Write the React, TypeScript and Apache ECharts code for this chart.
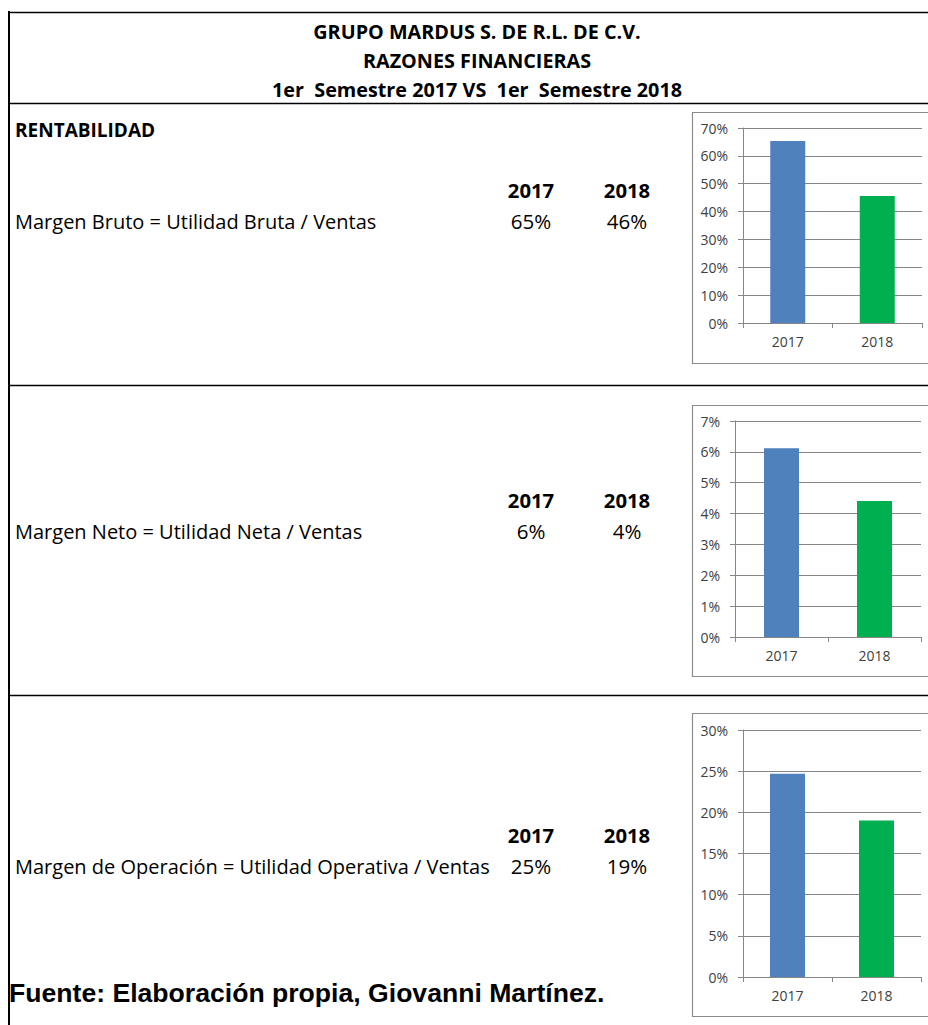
import React, { useEffect, useRef } from "react";
import * as echarts from "echarts";

// ---- data ----
const titleLines = [
  "GRUPO MARDUS S. DE R.L. DE C.V.",
  "RAZONES FINANCIERAS",
  "1er  Semestre 2017 VS  1er  Semestre 2018",
];
const sectionTitle = "RENTABILIDAD";
const years = ["2017", "2018"];
const ratioNames = [
  "Margen Bruto = Utilidad Bruta / Ventas",
  "Margen Neto = Utilidad Neta / Ventas",
  "Margen de Operación = Utilidad Operativa / Ventas",
];
const margenBruto = [0.653, 0.456];
const margenNeto = [0.0612, 0.0441];
const margenOperacion = [0.247, 0.19];
const axisMax = [0.7, 0.07, 0.3];
const axisInterval = [0.1, 0.01, 0.05];
const sourceNote = "Fuente: Elaboración propia, Giovanni Martínez.";

const seriesValues = [margenBruto, margenNeto, margenOperacion];
const barColors = ["#4F81BD", "#00B050"];

// ---- layout ----
const FONT = "'Open Sans', Lato, sans-serif";
const layout = [
  { headY: 190, valY: 221, box: { y: 112, h: 251 }, grid: { left: 743, top: 128, w: 179, h: 195 } },
  { headY: 500, valY: 531, box: { y: 405, h: 271 }, grid: { left: 735, top: 421, w: 186, h: 216 } },
  { headY: 835, valY: 866, box: { y: 713, h: 303 }, grid: { left: 743, top: 730, w: 178, h: 247 } },
];
const colX = [531, 627];

const pct = (v: number) => Math.round(v * 100) + "%";

function txt(text: string, x: number, y: number, font: string, align = "left", fill = "#000") {
  return {
    type: "text",
    x,
    y,
    z: 10,
    style: {
      text,
      x: 0,
      y: 0,
      font,
      fill,
      align,
      verticalAlign: "middle",
      textAlign: align,
      textVerticalAlign: "middle",
    },
  };
}

function hline(y: number, x1: number, x2: number, w = 1.5) {
  return { type: "line", z: 5, shape: { x1, y1: y, x2, y2: y }, style: { stroke: "#000", lineWidth: w } };
}

export default function App() {
  const ref = useRef<HTMLDivElement>(null);
  useEffect(() => {
    const chart = echarts.init(ref.current!, null, { renderer: "svg", width: 928, height: 1025 });

    const graphics: any[] = [];
    graphics.push({ type: "rect", z: 0, shape: { x: 0, y: 0, width: 928, height: 1025 }, style: { fill: "#fff" } });
    graphics.push(hline(12.5, 8, 928));
    graphics.push(hline(103.5, 8, 928));
    graphics.push(hline(385.5, 8, 928));
    graphics.push(hline(695.5, 8, 928));
    graphics.push({ type: "line", z: 5, shape: { x1: 9, y1: 11, x2: 9, y2: 1025 }, style: { stroke: "#000", lineWidth: 2 } });

    const titleY = [31, 60, 89];
    titleLines.forEach((t, i) => graphics.push(txt(t, 477, titleY[i], `bold 19.8px ${FONT}`, "center")));
    graphics.push(txt(sectionTitle, 15, 130, `bold 19px ${FONT}`));

    layout.forEach((L, i) => {
      graphics.push(txt(ratioNames[i], 15, L.valY, `20px ${FONT}`));
      years.forEach((y, j) => {
        graphics.push(txt(y, colX[j], L.headY, `bold 20.3px ${FONT}`, "center"));
        graphics.push(txt(pct(seriesValues[i][j]), colX[j], L.valY, `20.5px ${FONT}`, "center"));
      });
      graphics.push({
        type: "rect",
        z: 1,
        shape: { x: 692.5, y: L.box.y + 0.5, width: 250, height: L.box.h },
        style: { fill: "none", stroke: "#8c8c8c", lineWidth: 1.2 },
      });
    });
    graphics.push(txt(sourceNote, 9, 993, `bold 26.6px 'Liberation Sans', Arial, sans-serif`));

    const axisColor = "#868686";
    const option: any = {
      animation: false,
      backgroundColor: "#fff",
      graphic: { elements: graphics },
      grid: layout.map((L) => ({ left: L.grid.left, top: L.grid.top, width: L.grid.w, height: L.grid.h, containLabel: false })),
      xAxis: layout.map((_, i) => ({
        type: "category",
        gridIndex: i,
        data: years,
        axisLine: { show: true, lineStyle: { color: axisColor, width: 1 } },
        axisTick: { show: true, length: 5, lineStyle: { color: axisColor } },
        axisLabel: { color: "#404040", fontSize: 14, fontFamily: FONT, margin: 11 },
        z: 3,
      })),
      yAxis: layout.map((_, i) => ({
        type: "value",
        gridIndex: i,
        min: 0,
        max: axisMax[i],
        interval: axisInterval[i],
        axisLine: { show: true, lineStyle: { color: axisColor, width: 1 } },
        axisTick: { show: true, length: 5, lineStyle: { color: axisColor } },
        splitLine: { show: true, lineStyle: { color: axisColor, width: 1 } },
        axisLabel: { color: "#404040", fontSize: 14, fontFamily: FONT, margin: 15, formatter: (v: number) => pct(v) },
        z: 3,
      })),
      series: layout.map((_, i) => ({
        type: "bar",
        xAxisIndex: i,
        yAxisIndex: i,
        barWidth: 35,
        z: 4,
        data: seriesValues[i].map((v, j) => ({ value: v, itemStyle: { color: barColors[j] } })),
      })),
    };
    chart.setOption(option);
    return () => chart.dispose();
  }, []);
  return (
    <div
      ref={ref}
      style={{ position: "absolute", left: 0, top: 0, width: 928, height: 1025, background: "#fff" }}
    />
  );
}
